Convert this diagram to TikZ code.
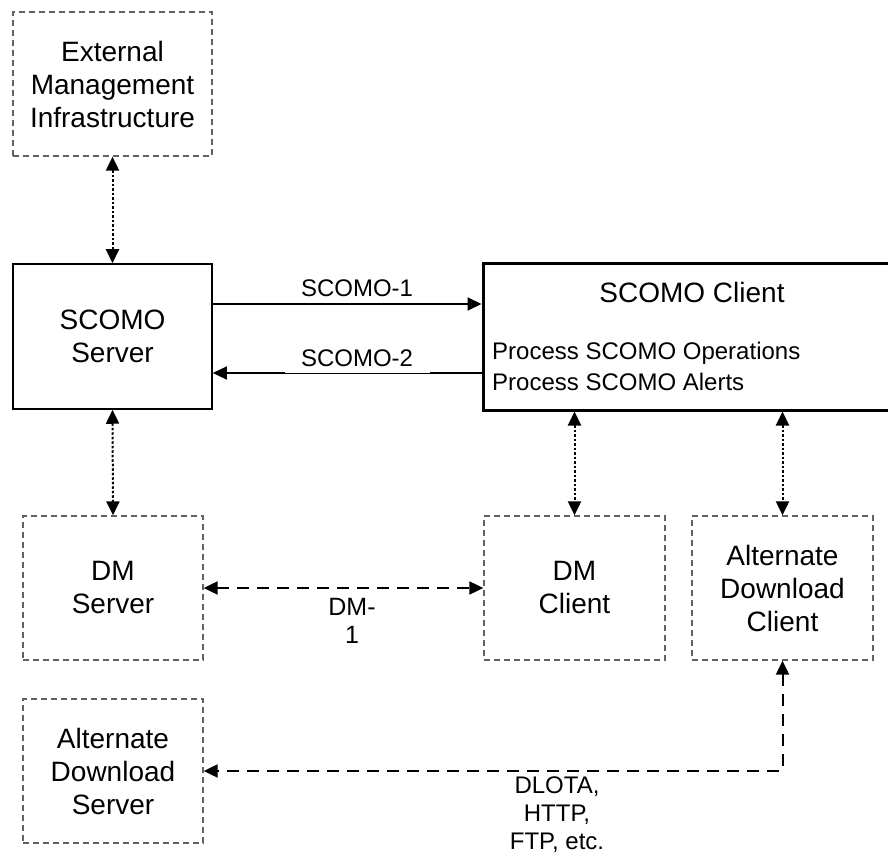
\documentclass[tikz,border=0pt]{standalone}
\usepackage{fontspec}
\setmainfont{Liberation Sans}
\usetikzlibrary{arrows.meta}
\begin{document}
\begin{tikzpicture}[x=1pt,y=-1pt,
  boxtext/.style={font=\fontsize{28}{33}\selectfont, align=center},
  lbltext/.style={font=\fontsize{24}{29}\selectfont, align=center, inner sep=0pt},
  dbox/.style={draw=black!62, line width=1.3pt, dash pattern=on 6pt off 4pt, rectangle, inner sep=0pt, boxtext},
  sbox/.style={draw=black, line width=1.5pt, rectangle, inner sep=0pt, boxtext},
  cbox/.style={draw=black, line width=3pt, rectangle, inner sep=0pt},
  headtip/.style={-{Triangle[length=14pt,width=13pt]}},
  bothtip/.style={{Triangle[length=14pt,width=13pt]}-{Triangle[length=14pt,width=13pt]}},
  dotlink/.style={bothtip, line width=2pt, dash pattern=on 2.5pt off 2pt},
  dashlink/.style={bothtip, line width=2pt, dash pattern=on 12pt off 8pt},
  solidlink/.style={headtip, line width=2pt}
]
\useasboundingbox (0,0) rectangle (888,858);

% boxes
\node[dbox, minimum width=199pt, minimum height=144pt] (emi) at (112.5,84) {External\\Management\\Infrastructure};
\node[sbox, minimum width=199pt, minimum height=145pt] (srv) at (112.5,336.5) {SCOMO\\Server};
\node[cbox, minimum width=407pt, minimum height=146pt] (cli) at (686.5,337) {};
\node[boxtext, inner sep=0pt] (clititle) at (692,292) {SCOMO Client};
\node[lbltext, anchor=west, align=left] (clip1) at (492,353) {Process SCOMO Operations};
\node[lbltext, anchor=west, align=left] (clip2) at (492,382) {Process SCOMO Alerts};
\node[dbox, minimum width=180pt, minimum height=144pt] (dms) at (113,588) {DM\\Server};
\node[dbox, minimum width=181pt, minimum height=144pt] (dmc) at (574.5,588) {DM\\Client};
\node[dbox, minimum width=181pt, minimum height=144pt] (adc) at (782.5,588) {Alternate\\Download\\Client};
\node[dbox, minimum width=180pt, minimum height=144pt] (ads) at (113,771) {Alternate\\Download\\Server};

% connectors
\draw[dotlink] (emi.south) -- (srv.north);
\draw[dotlink] (srv.south) -- (dms.north);
\draw[dotlink] (cli.south -| dmc.north) -- (dmc.north);
\draw[dotlink] (cli.south -| adc.north) -- (adc.north);

\draw[solidlink] (srv.east |- 0,304) -- (cli.west |- 0,304);
\draw[headtip, line width=1pt] (cli.west |- 0,373) -- (srv.east |- 0,373);
\draw[line width=2pt] (cli.west |- 0,373) -- (430,373);
\draw[line width=2pt] (285,373) -- (225,373);

\draw[dashlink] (dms.east) -- (dmc.west);
\draw[dashlink] (adc.south) -- (adc.south |- ads.east) -- (ads.east);

% labels
\node[lbltext] (l1) at (357,288) {SCOMO-1};
\node[lbltext] (l2) at (357,358) {SCOMO-2};
\node[lbltext, font=\fontsize{25}{28}\selectfont] (l3) at (352,621) {DM-\\1};
\node[lbltext, font=\fontsize{24}{28}\selectfont] (l4) at (557,815) {DLOTA,\\HTTP,\\FTP, etc.};
\end{tikzpicture}
\end{document}
